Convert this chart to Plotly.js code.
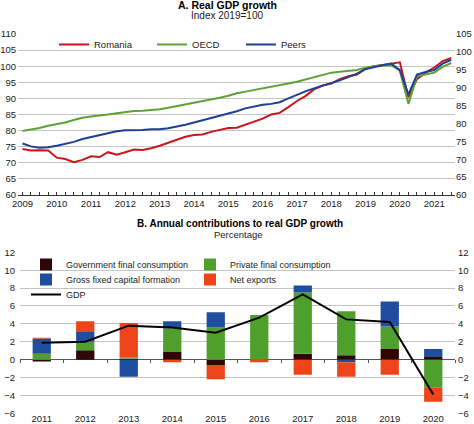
<!DOCTYPE html>
<html>
<head>
<meta charset="utf-8">
<script src="https://cdn.plot.ly/plotly-3.0.1.min.js"></script>
<style>
  html, body { margin: 0; padding: 0; background: #fff; }
  #chart { width: 474px; height: 424px; }
</style>
</head>
<body>
<div id="chart"></div>
<script>
// ---------- Panel A data: quarterly, 2009Q1 - 2021Q3, index 2019 = 100 ----------
const quarterDates = [
  '2009-01-01','2009-04-01','2009-07-01','2009-10-01',
  '2010-01-01','2010-04-01','2010-07-01','2010-10-01',
  '2011-01-01','2011-04-01','2011-07-01','2011-10-01',
  '2012-01-01','2012-04-01','2012-07-01','2012-10-01',
  '2013-01-01','2013-04-01','2013-07-01','2013-10-01',
  '2014-01-01','2014-04-01','2014-07-01','2014-10-01',
  '2015-01-01','2015-04-01','2015-07-01','2015-10-01',
  '2016-01-01','2016-04-01','2016-07-01','2016-10-01',
  '2017-01-01','2017-04-01','2017-07-01','2017-10-01',
  '2018-01-01','2018-04-01','2018-07-01','2018-10-01',
  '2019-01-01','2019-04-01','2019-07-01','2019-10-01',
  '2020-01-01','2020-04-01','2020-07-01','2020-10-01',
  '2021-01-01','2021-04-01','2021-07-01'
];
const yearTicks = ['2009-01-01','2010-01-01','2011-01-01','2012-01-01','2013-01-01','2014-01-01','2015-01-01',
                   '2016-01-01','2017-01-01','2018-01-01','2019-01-01','2020-01-01','2021-01-01'];
const romania = [
  74.3, 73.8, 73.9, 73.8,
  71.6, 71.2, 70.2, 70.9,
  72.0, 71.8, 73.3, 72.5,
  73.3, 74.1, 74.0, 74.5,
  75.3, 76.3, 77.2, 78.1,
  78.6, 78.8, 79.6, 80.3,
  80.8, 80.9, 81.8, 82.8,
  83.7, 85.0, 85.5, 87.3,
  89.2, 90.7, 92.8, 94.0,
  94.6, 96.0, 96.9, 97.4,
  99.2, 100.0, 100.3, 100.8,
  101.2, 90.3, 96.0, 98.0,
  99.6, 101.6, 102.6
];
const oecd = [
  79.9, 80.3, 80.8, 81.5,
  81.9, 82.5, 83.3, 84.0,
  84.4, 84.6, 85.0, 85.4,
  85.8, 86.1, 86.2, 86.3,
  86.6, 87.1, 87.6, 88.2,
  88.7, 89.0, 89.5, 90.2,
  90.8, 91.6, 92.1, 92.6,
  93.1, 93.6, 93.9, 94.6,
  95.2, 95.9, 96.6, 97.3,
  98.0, 98.3, 98.6, 98.8,
  99.5, 100.0, 100.2, 100.3,
  98.6, 88.3, 96.9, 97.5,
  98.0, 99.8, 101.0
];
const peers = [
  76.0, 75.1, 74.7, 74.8,
  75.3, 75.9, 76.5, 77.4,
  78.0, 78.8, 79.4, 79.8,
  80.1, 80.1, 80.2, 80.4,
  80.4, 80.7, 81.2, 81.8,
  82.5, 83.2, 83.9, 84.5,
  85.1, 86.0, 86.9, 87.5,
  88.0, 88.3, 88.8, 90.0,
  91.2, 92.2, 93.1, 93.9,
  94.6, 95.6, 96.6, 97.7,
  99.1, 99.8, 100.3, 100.8,
  98.8, 91.2, 97.4, 98.2,
  98.8, 100.8, 102.0
];

// ---------- Panel B data: annual contributions (percentage points) ----------
const years = ['2011','2012','2013','2014','2015','2016','2017','2018','2019','2020'];
const govConsumption  = [-0.2, 1.05, 0.10, 0.85, -0.6, 0.0, 0.65, 0.5, 1.2, 0.3];
const privConsumption = [0.65, 0.95, 0.15, 2.65, 3.6, 5.0, 6.85, 4.9, 2.5, -3.1];
const gfcf            = [1.7, 1.1, -1.9, 0.8, 1.7, 0.0, 0.8, -0.3, 2.8, 0.9];
const netExports      = [0.1, 1.2, 3.85, -0.3, -1.6, -0.3, -1.7, -1.6, -1.7, -1.6];
const gdpGrowth       = [1.9, 2.0, 3.8, 3.6, 3.0, 4.7, 7.3, 4.5, 4.2, -3.9];

const FONT = '"Liberation Sans", Arial, sans-serif';
const TXT = '#1a1a1a';
const GRID = '#c4c4c4';

const W = 474, H = 424;
const px = v => v / W;
const py = v => 1 - v / H;

const traces = [
  { x: quarterDates, y: romania, type: 'scatter', mode: 'lines', name: 'Romania',
    line: { color: '#c8161e', width: 2 }, xaxis: 'x', yaxis: 'y', legend: 'legend' },
  { x: quarterDates, y: oecd, type: 'scatter', mode: 'lines', name: 'OECD',
    line: { color: '#5ca336', width: 2 }, xaxis: 'x', yaxis: 'y', legend: 'legend2' },
  { x: quarterDates, y: peers, type: 'scatter', mode: 'lines', name: 'Peers',
    line: { color: '#1d3f94', width: 2 }, xaxis: 'x', yaxis: 'y', legend: 'legend3' },
  // empty carrier so the right-hand axis of panel A is drawn
  { x: [], y: [], type: 'scatter', mode: 'lines', xaxis: 'x', yaxis: 'y2',
    showlegend: false, hoverinfo: 'skip' },

  { x: years, y: govConsumption, type: 'bar', name: 'Government final consumption',
    marker: { color: '#2e0606' }, width: 0.42, xaxis: 'x2', yaxis: 'y3', legend: 'legend4' },
  { x: years, y: privConsumption, type: 'bar', name: 'Private final consumption',
    marker: { color: '#4f9f2c' }, width: 0.42, xaxis: 'x2', yaxis: 'y3', legend: 'legend5' },
  { x: years, y: gfcf, type: 'bar', name: 'Gross fixed capital formation',
    marker: { color: '#1f4da0' }, width: 0.42, xaxis: 'x2', yaxis: 'y3', legend: 'legend6' },
  { x: years, y: netExports, type: 'bar', name: 'Net exports',
    marker: { color: '#ee4419' }, width: 0.42, xaxis: 'x2', yaxis: 'y3', legend: 'legend7' },
  { x: years, y: gdpGrowth, type: 'scatter', mode: 'lines', name: 'GDP',
    line: { color: '#000000', width: 2 }, xaxis: 'x2', yaxis: 'y3', legend: 'legend8' },
  // empty carriers so the right-hand axis and the zero-line ticks of panel B are drawn
  { x: [], y: [], type: 'scatter', mode: 'lines', xaxis: 'x2', yaxis: 'y4',
    showlegend: false, hoverinfo: 'skip' },
  { x: [], y: [], type: 'scatter', mode: 'lines', xaxis: 'x3', yaxis: 'y3',
    showlegend: false, hoverinfo: 'skip' }
];

const tickFont = { family: FONT, size: 9.5, color: TXT };

function leg(xPx, yTopPx, size) {
  return {
    orientation: 'h', x: px(xPx), y: py(yTopPx), xanchor: 'left', yanchor: 'top',
    bgcolor: 'rgba(0,0,0,0)', font: { family: FONT, size: size, color: TXT },
    itemwidth: 30
  };
}

const layout = {
  width: W, height: H,
  margin: { l: 0, r: 0, t: 0, b: 0 },
  paper_bgcolor: '#ffffff', plot_bgcolor: '#ffffff',
  font: { family: FONT, size: 9.5, color: TXT },
  barmode: 'relative',
  showlegend: true,
  xaxis: {
    domain: [px(18), px(455)], anchor: 'y', type: 'date',
    range: ['2008-11-14', '2021-08-10'],
    tickvals: yearTicks,
    tickformat: '%Y',
    showgrid: false, zeroline: false,
    showline: true, linecolor: '#333', linewidth: 1,
    ticks: 'inside', ticklen: 3, tickcolor: '#333',
    minor: { dtick: 'M3', ticks: 'inside', ticklen: 3, tickcolor: '#333', showgrid: false },
    tickfont: tickFont, automargin: false
  },
  yaxis: {
    domain: [py(195), py(34)], anchor: 'x',
    range: [60, 110], dtick: 5, tick0: 60,
    showgrid: true, gridcolor: GRID, gridwidth: 1,
    zeroline: false, showline: false, ticks: '',
    tickfont: tickFont, ticklabelstandoff: 1, automargin: false
  },
  yaxis2: {
    overlaying: 'y', side: 'right', anchor: 'x',
    range: [60, 105], dtick: 5, tick0: 60,
    showgrid: false, zeroline: false, showline: false, ticks: '',
    tickfont: tickFont, ticklabelstandoff: 0, automargin: false
  },
  xaxis2: {
    domain: [px(20), px(455)], anchor: 'y3', type: 'category',
    categoryorder: 'array', categoryarray: years,
    showgrid: false, zeroline: false, showline: false, ticks: '',
    tickfont: tickFont, ticklabelstandoff: -2, automargin: false
  },
  xaxis3: {
    overlaying: 'x2', anchor: 'free', position: py(359.3), side: 'bottom', type: 'category',
    categoryorder: 'array', categoryarray: years, range: [-0.5, 9.5],
    tickmode: 'array', tickvals: years, tickson: 'boundaries',
    showgrid: false, zeroline: false, showline: false, showticklabels: false,
    ticks: 'outside', ticklen: 3, tickcolor: '#555', automargin: false
  },
  yaxis3: {
    domain: [py(413.3), py(252.3)], anchor: 'x2',
    range: [-6, 12], dtick: 2, tick0: -6,
    showgrid: true, gridcolor: GRID, gridwidth: 1,
    zeroline: true, zerolinecolor: '#555', zerolinewidth: 1,
    showline: false, ticks: '',
    tickfont: tickFont, ticklabelstandoff: 4, automargin: false
  },
  yaxis4: {
    overlaying: 'y3', side: 'right', anchor: 'x2',
    range: [-6, 12], dtick: 2, tick0: -6,
    showgrid: false, zeroline: false, showline: false, ticks: '',
    tickfont: tickFont, ticklabelstandoff: 2, automargin: false
  },
  legend:  leg(54, 30, 9.5),
  legend2: leg(152, 30, 9.5),
  legend3: leg(241, 30, 9.5),
  legend4: leg(26, 250, 9),
  legend5: leg(190, 250, 9),
  legend6: leg(26, 265, 9),
  legend7: leg(190, 265, 9),
  legend8: leg(26, 280, 9),
  annotations: [
    { text: '<b>A. Real GDP growth</b>', x: px(227), y: py(5), xref: 'paper', yref: 'paper',
      showarrow: false, xanchor: 'center', yanchor: 'middle', font: { family: FONT, size: 10.5, color: '#000' } },
    { text: 'Index 2019=100', x: px(227), y: py(16), xref: 'paper', yref: 'paper',
      showarrow: false, xanchor: 'center', yanchor: 'middle', font: { family: FONT, size: 10, color: TXT } },
    { text: '<b>B. Annual contributions to real GDP growth</b>', x: px(239.5), y: py(223.5), xref: 'paper', yref: 'paper',
      showarrow: false, xanchor: 'center', yanchor: 'middle', font: { family: FONT, size: 10, color: '#000' } },
    { text: 'Percentage', x: px(239), y: py(235), xref: 'paper', yref: 'paper',
      showarrow: false, xanchor: 'center', yanchor: 'middle', font: { family: FONT, size: 9.5, color: TXT } }
  ]
};

Plotly.newPlot('chart', traces, layout, { staticPlot: true, displayModeBar: false });
</script>
</body>
</html>
